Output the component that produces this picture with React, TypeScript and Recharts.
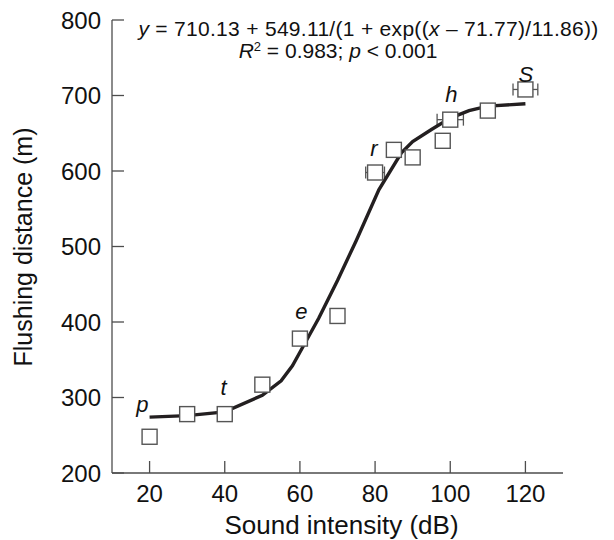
import React from 'react';
import { ComposedChart, Scatter, Line, XAxis, YAxis, ErrorBar } from 'recharts';

// observed points
const soundDb = [20, 30, 40, 50, 60, 70, 80, 85, 90, 98, 100, 110, 120];
const flushM = [248, 278, 278, 317, 378, 408, 598, 628, 618, 640, 668, 680, 708];
const dbError = [0, 0, 0, 0, 0, 0, 2.5, 0, 0, 0, 3.5, 0, 3.3];

// fitted curve as drawn
const fitDb = [20, 30, 40, 50, 55, 58, 60, 65, 70, 75, 81, 87, 90, 95, 100, 105, 110, 120];
const fitM = [274, 276, 281, 303, 322, 342, 360, 405, 455, 508, 575, 624, 639, 655, 670, 680, 686, 689];

// letter tags
const tagText = ['p', 't', 'e', 'r', 'h', 'S'];
const tagDb = [18.1, 39.7, 60.4, 79.7, 100.3, 120.1];
const tagM = [281, 303, 404, 620, 692, 718];

const xTicks = [20, 40, 60, 80, 100, 120];
const yTicks = [200, 300, 400, 500, 600, 700, 800];

const FONT = '"Liberation Sans", Arial, sans-serif';
const AXIS = '#4d4d4d';

const points = soundDb.map((x, i) => ({ x, y: flushM[i], err: dbError[i] }));
const withErr = points.filter((p) => p.err > 0);
const fit = fitDb.map((x, i) => ({ x, y: fitM[i] }));
const tags = tagText.map((t, i) => ({ x: tagDb[i], y: tagM[i], t }));

const Square = (props: any) => {
  const { cx, cy } = props;
  return <rect x={cx - 7.5} y={cy - 7.5} width={15} height={15} fill="#fff" stroke="#555" strokeWidth={1.4} />;
};

const Nothing = () => <g />;

const Tag = (props: any) => {
  const { cx, cy, payload } = props;
  return (
    <text x={cx} y={cy} textAnchor="middle" fontSize={22} fontStyle="italic" fontFamily={FONT} fill="#111">
      {payload.t}
    </text>
  );
};

export default function App() {
  const tickStyle = { fill: '#111', fontSize: 24, fontFamily: FONT };
  return (
    <div style={{ position: 'absolute', left: 0, top: 0, width: 614, height: 540, background: '#fff' }}>
      <ComposedChart width={614} height={540} margin={{ top: 20, right: 51, bottom: 27, left: 52 }}>
        <XAxis
          type="number"
          dataKey="x"
          domain={[10, 130]}
          ticks={xTicks}
          allowDataOverflow
          height={40}
          tickSize={-12}
          tickMargin={24}
          stroke={AXIS}
          strokeWidth={1.3}
          tick={tickStyle}
        />
        <YAxis
          type="number"
          dataKey="y"
          domain={[200, 800]}
          ticks={yTicks}
          allowDataOverflow
          width={60}
          tickSize={-12}
          tickMargin={23}
          stroke={AXIS}
          strokeWidth={1.3}
          tick={tickStyle}
        />
        <Scatter data={withErr} shape={<Nothing />} isAnimationActive={false}>
          <ErrorBar dataKey="err" direction="x" width={6} stroke="#555" strokeWidth={1.3} />
        </Scatter>
        <Scatter data={points} shape={<Square />} isAnimationActive={false} />
        <Line
          data={fit}
          dataKey="y"
          type="linear"
          stroke="#231f20"
          strokeWidth={3.4}
          dot={false}
          activeDot={false}
          isAnimationActive={false}
        />
        <Scatter data={tags} shape={<Tag />} isAnimationActive={false} />
      </ComposedChart>
      <svg width={614} height={540} style={{ position: 'absolute', left: 0, top: 0, pointerEvents: 'none' }}>
        <g fontFamily={FONT} fill="#111">
          <text x={368.5} y={36} textAnchor="middle" fontSize={21} letterSpacing={0.3}>
            <tspan fontStyle="italic">y</tspan> = 710.13 + 549.11/(1 + exp((<tspan fontStyle="italic">x</tspan> – 71.77)/11.86))
          </text>
          <text x={338} y={58} textAnchor="middle" fontSize={21}>
            <tspan fontStyle="italic">R</tspan>
            <tspan dy={-7} fontSize={13}>2</tspan>
            <tspan dy={7}> = 0.983; </tspan>
            <tspan fontStyle="italic">p</tspan> &lt; 0.001
          </text>
          <text x={341.5} y={534} textAnchor="middle" fontSize={26}>Sound intensity (dB)</text>
          <text x={32} y={247} textAnchor="middle" fontSize={25} transform="rotate(-90, 32, 247)">
            Flushing distance (m)
          </text>
        </g>
      </svg>
    </div>
  );
}
